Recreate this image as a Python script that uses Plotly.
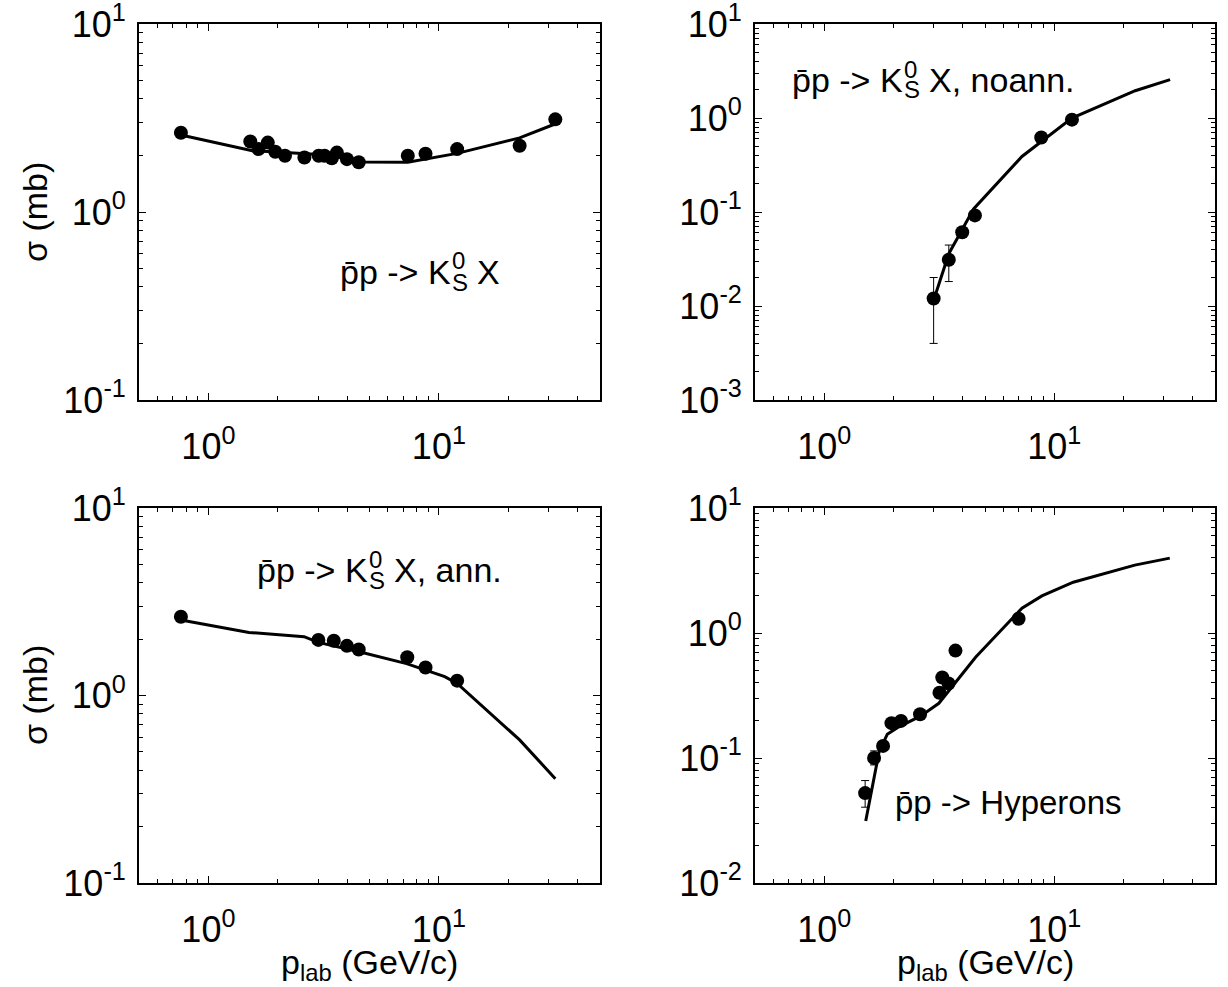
import numpy as np
import plotly.graph_objects as go
from plotly.subplots import make_subplots

# ---------------- data ----------------
# top-left: pbar p -> K0S X
tl_px = [0.76, 1.52, 1.65, 1.81, 1.95, 2.15, 2.61, 3.01, 3.19, 3.43, 3.61, 3.99, 4.49, 7.33, 8.75, 12.0, 22.4, 32.0]
tl_py = [2.64, 2.37, 2.16, 2.34, 2.09, 1.99, 1.95, 1.99, 1.99, 1.93, 2.07, 1.91, 1.84, 1.99, 2.04, 2.16, 2.25, 3.11]
tl_err = [0, 0, 0, 0, 0, 0, 0, 0, 0, 0, 0, 0, 0, 0, 0, 0.09, 0, 0]
tl_lx = [0.76, 1.55, 2.56, 3.7, 4.66, 7.33, 12.0, 22.4, 31.5]
tl_ly = [2.57, 2.12, 2.05, 1.99, 1.845, 1.84, 2.05, 2.48, 2.92]

# top-right: pbar p -> K0S X, noann.
tr_px = [2.99, 3.48, 3.98, 4.52, 8.78, 11.94]
tr_py = [0.012, 0.031, 0.061, 0.092, 0.62, 0.96]
tr_errp = [0.0081, 0.0135, 0, 0, 0, 0]
tr_errm = [0.008, 0.0128, 0, 0, 0, 0]
tr_lx = [2.99, 3.48, 3.98, 4.46, 7.24, 11.94, 22.5, 31.9]
tr_ly = [0.0115, 0.036, 0.065, 0.108, 0.39, 1.0, 1.95, 2.56]

# bottom-left: pbar p -> K0S X, ann.
bl_px = [0.76, 3.0, 3.5, 3.99, 4.49, 7.29, 8.75, 12.0]
bl_py = [2.63, 1.98, 1.96, 1.84, 1.76, 1.60, 1.41, 1.20]
bl_err = [0, 0, 0, 0, 0, 0, 0, 0.07]
bl_lx = [0.76, 1.5, 2.6, 3.0, 4.6, 7.24, 10.6, 12.0, 22.4, 32.0]
bl_ly = [2.53, 2.17, 2.06, 1.92, 1.70, 1.48, 1.26, 1.16, 0.58, 0.36]

# bottom-right: pbar p -> Hyperons
br_px = [1.506, 1.647, 1.802, 1.96, 2.157, 2.61, 3.17, 3.26, 3.47, 3.72, 7.0]
br_py = [0.0524, 0.1, 0.125, 0.19, 0.198, 0.224, 0.333, 0.441, 0.395, 0.723, 1.30]
br_errp = [0.0136, 0.014, 0, 0, 0, 0, 0, 0, 0, 0, 0]
br_errm = [0.012, 0.012, 0, 0, 0, 0, 0, 0, 0, 0, 0]
br_lx = [1.515, 1.73, 1.88, 2.08, 2.63, 3.15, 4.55, 7.24, 8.84, 12.1, 22.4, 31.8]
br_ly = [0.0313, 0.111, 0.155, 0.175, 0.217, 0.274, 0.64, 1.58, 1.98, 2.55, 3.49, 3.97]

x_ticks = [1, 10]
x_ticktext = ["10<sup>0</sup>", "10<sup>1</sup>"]

# ---------------- figure ----------------
W, H = 1228, 987
FONT = "Liberation Sans, Arial, Helvetica, sans-serif"
TICK_SIZE = 36
TEXT_SIZE = 34

fig = make_subplots(rows=2, cols=2)

panels = [
    (1, 1, tl_px, tl_py, tl_err, tl_err, tl_lx, tl_ly, (-1, 1)),
    (1, 2, tr_px, tr_py, tr_errp, tr_errm, tr_lx, tr_ly, (-3, 1)),
    (2, 1, bl_px, bl_py, bl_err, bl_err, bl_lx, bl_ly, (-1, 1)),
    (2, 2, br_px, br_py, br_errp, br_errm, br_lx, br_ly, (-2, 1)),
]

# panel frames in pixels: (x0, x1, ytop, ybottom)
frames = {
    (1, 1): (139, 600, 24, 400),
    (1, 2): (755, 1215, 24, 400),
    (2, 1): (139, 600, 508, 883),
    (2, 2): (755, 1215, 508, 883),
}


def minor_vals(lo, hi):
    vals = []
    for e in range(lo - 1, hi + 1):
        for m in range(2, 10):
            vals.append(m * 10.0 ** e)
    return vals


for (r, c, px, py, ep, em, lx, ly, yr) in panels:
    fig.add_trace(go.Scatter(x=lx, y=ly, mode="lines",
                             line=dict(color="black", width=3),
                             showlegend=False, hoverinfo="skip"), row=r, col=c)
    fig.add_trace(go.Scatter(x=px, y=py, mode="markers",
                             marker=dict(color="black", size=14),
                             error_y=dict(type="data", array=ep, arrayminus=em,
                                          color="black", thickness=1, width=4),
                             showlegend=False), row=r, col=c)
    x0, x1, yt, yb = frames[(r, c)]
    xminor = [v for v in minor_vals(0, 2) if 0.5 < v < 50]
    fig.update_xaxes(type="log", range=[np.log10(0.5), np.log10(50)],
                     domain=[x0 / W, x1 / W], automargin=False,
                     tickvals=x_ticks, ticktext=x_ticktext,
                     ticks="inside", ticklen=7, tickwidth=1, tickcolor="black",
                     minor=dict(ticks="inside", ticklen=4, tickwidth=1, tickcolor="black",
                                tickvals=xminor),
                     showline=True, linecolor="black", linewidth=2, mirror="ticks",
                     showgrid=False, zeroline=False,
                     tickfont=dict(family=FONT, size=TICK_SIZE, color="black"),
                     ticklabelstandoff=14, ticklabeloverflow="allow",
                     row=r, col=c)
    yvals = [10.0 ** e for e in range(yr[0], yr[1] + 1)]
    ytext = ["10<sup>%d</sup>" % e for e in range(yr[0], yr[1] + 1)]
    yminor = [v for v in minor_vals(yr[0], yr[1]) if 10 ** yr[0] < v < 10 ** yr[1]]
    fig.update_yaxes(type="log", range=[yr[0], yr[1]],
                     domain=[1 - yb / H, 1 - yt / H], automargin=False,
                     tickvals=yvals, ticktext=ytext,
                     ticks="inside", ticklen=7, tickwidth=1, tickcolor="black",
                     minor=dict(ticks="inside", ticklen=4, tickwidth=1, tickcolor="black",
                                tickvals=yminor),
                     showline=True, linecolor="black", linewidth=2, mirror="ticks",
                     showgrid=False, zeroline=False,
                     tickfont=dict(family=FONT, size=TICK_SIZE, color="black"),
                     ticklabelstandoff=4, ticklabeloverflow="allow",
                     row=r, col=c)

annots = []


def add_text(text, xp, yp, size=TEXT_SIZE, xanchor="center", angle=0):
    annots.append(dict(text=text, x=xp / W, y=1 - yp / H, xref="paper", yref="paper",
                       showarrow=False, xanchor=xanchor, yanchor="middle",
                       textangle=angle,
                       font=dict(family=FONT, size=size, color="black")))


# axis titles
add_text("σ (mb)", 35, 212, angle=-90)
add_text("σ (mb)", 35, 695, angle=-90)
add_text("p<sub>lab</sub> (GeV/c)", 369, 964)
add_text("p<sub>lab</sub> (GeV/c)", 985, 964)

# panel labels with stacked K^0_S
EM = TEXT_SIZE
W_HEAD = 3.252 * EM          # width of "p̄p -> K" (Arial metrics)
W_SCRIPT = 0.667 * 0.72 * EM  # width of the small "S"
W_GAP = 0.278 * EM


def k0s_label(x0, yc, tail):
    add_text("p\u0304p -> K", x0, yc, xanchor="left")
    xs = x0 + W_HEAD + 1
    add_text("0", xs, yc - 11, size=int(0.72 * EM), xanchor="left")
    add_text("S", xs, yc + 10, size=int(0.72 * EM), xanchor="left")
    add_text(tail, xs + W_SCRIPT + W_GAP, yc, xanchor="left")


k0s_label(338, 272, "X")
k0s_label(790, 80, "X, noann.")
k0s_label(255, 570, "X, ann.")
add_text("p\u0304p -> Hyperons", 893, 802, size=33, xanchor="left")

fig.update_layout(width=W, height=H, margin=dict(l=0, r=0, t=0, b=0, autoexpand=False),
                  paper_bgcolor="white", plot_bgcolor="white",
                  font=dict(family=FONT, color="black"),
                  annotations=annots, showlegend=False)

fig.write_html("out.html")
